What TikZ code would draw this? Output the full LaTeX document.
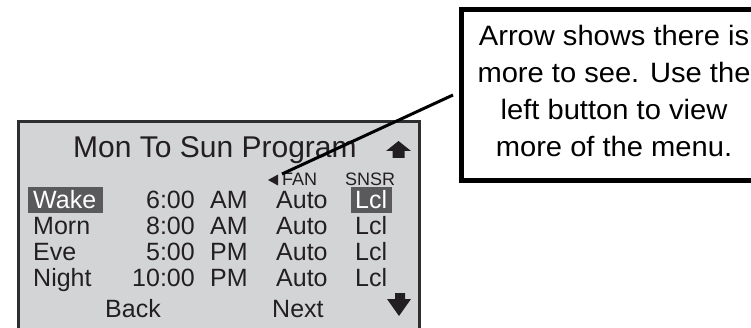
\documentclass[tikz,border=0pt]{standalone}
\usepackage{fontspec}
\setmainfont{Liberation Sans}
\newfontfamily\callfont[FakeStretch=1.04]{Liberation Sans}
\definecolor{lcd}{HTML}{D3D4D6}
\definecolor{lcdframe}{HTML}{2E2E2E}
\definecolor{hil}{HTML}{5A5A5C}
\definecolor{ink}{HTML}{231F20}
\tikzset{
  lcdtxt/.style={anchor=base west, inner sep=0pt, text=ink, font=\fontsize{25}{25}\selectfont},
  lcdtxtR/.style={anchor=base east, inner sep=0pt, text=ink, font=\fontsize{25}{25}\selectfont},
  hitxt/.style={lcdtxt, text=white},
  smalltxt/.style={anchor=base west, inner sep=0pt, text=ink, font=\fontsize{18}{18}\selectfont},
  hibox/.style={fill=hil, draw=none},
  calltxt/.style={anchor=base, inner sep=0pt, text=black, font=\callfont\fontsize{28}{28}\selectfont},
  leader/.style={draw=black, line width=3pt},
  scrollarrow/.style={fill=ink, draw=none}
}
\begin{document}
\begin{tikzpicture}[x=1pt, y=-1pt]
\useasboundingbox (0,0) rectangle (751,328);
% screen
\draw[fill=lcd, draw=lcdframe, line width=3pt] (18.5,340) -- (18.5,121.5) -- (419,121.5) -- (419,340);
% title
\node[lcdtxt, font=\fontsize{30}{30}\selectfont] (title) at (73,158) {Mon To Sun Program};
% up arrow
\fill[scrollarrow] (386,151) -- (398.5,141) -- (411,151) -- (404.5,151) -- (404.5,158) -- (392.5,158) -- (392.5,151) -- cycle;
% header
\fill[ink] (268,180) -- (278,174.5) -- (278,185.5) -- cycle;
\coordinate (fantip) at (282,174);
\node[smalltxt] (fan) at (282,186) {FAN};
\node[smalltxt] (snsr) at (345,186) {SNSR};
% highlights
\fill[hibox] (28,187) rectangle (103,213);
\fill[hibox] (351,187) rectangle (392,213);
% rows
\node[hitxt] (wake) at (33,209) {Wake};
\node[lcdtxtR] (t1) at (195,209) {6:00};
\node[lcdtxt] (ap1) at (210,209) {AM};
\node[lcdtxt] (f1) at (276,209) {Auto};
\node[hitxt] (s1) at (355,209) {Lcl};

\node[lcdtxt] (morn) at (33,235) {Morn};
\node[lcdtxtR] (t2) at (195,235) {8:00};
\node[lcdtxt] (ap2) at (210,235) {AM};
\node[lcdtxt] (f2) at (276,235) {Auto};
\node[lcdtxt] (s2) at (355,235) {Lcl};

\node[lcdtxt] (eve) at (33,261) {Eve};
\node[lcdtxtR] (t3) at (195,261) {5:00};
\node[lcdtxt] (ap3) at (210,261) {PM};
\node[lcdtxt] (f3) at (276,261) {Auto};
\node[lcdtxt] (s3) at (355,261) {Lcl};

\node[lcdtxt] (night) at (33,286) {Night};
\node[lcdtxtR] (t4) at (195,286) {10:00};
\node[lcdtxt] (ap4) at (210,286) {PM};
\node[lcdtxt] (f4) at (276,286) {Auto};
\node[lcdtxt] (s4) at (355,286) {Lcl};

\node[lcdtxt] (back) at (105,317) {Back};
\node[lcdtxt] (next) at (272,317) {Next};
% down arrow
\fill[scrollarrow] (395,293) -- (405,293) -- (405,299) -- (411,299) -- (399,316) -- (387,299) -- (395,299) -- cycle;
% callout
\draw[fill=white, draw=black, line width=5pt] (780,9.5) -- (461.5,9.5) -- (461.5,180.5) -- (780,180.5);
\node[calltxt] (c1) at (614,46) {Arrow shows there is};
\node[calltxt] (c2) at (614,83) {more to see. Use the};
\node[calltxt] (c3) at (614,120) {left button to view};
\node[calltxt] (c4) at (614,157) {more of the menu.};
\coordinate (calloutfoot) at (453,95);
\draw[leader] (calloutfoot) -- (fantip);
\end{tikzpicture}
\end{document}
